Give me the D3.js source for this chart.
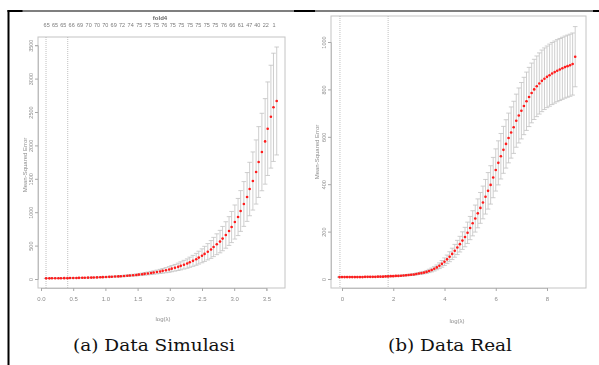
<!DOCTYPE html>
<html><head><meta charset="utf-8">
<script src="https://cdn.jsdelivr.net/npm/d3@7/dist/d3.min.js"></script>
<style>body{margin:0;background:#fff}svg{display:block}</style>
</head><body>
<svg id="c" width="599" height="365"></svg>
<script>
// ---------- (a) Data Simulasi ----------
const simLogLambda = [0.08,0.13,0.17,0.22,0.27,0.31,0.36,0.41,0.45,0.50,
 0.55,0.59,0.64,0.68,0.73,0.78,0.82,0.87,0.92,0.96,
 1.01,1.06,1.10,1.15,1.20,1.24,1.29,1.34,1.38,1.43,
 1.48,1.52,1.57,1.61,1.66,1.71,1.75,1.80,1.85,1.89,
 1.94,1.99,2.03,2.08,2.13,2.17,2.22,2.27,2.31,2.36,
 2.41,2.45,2.50,2.54,2.59,2.64,2.68,2.73,2.78,2.82,
 2.87,2.92,2.96,3.01,3.06,3.10,3.15,3.20,3.24,3.29,
 3.34,3.38,3.43,3.48,3.52,3.57,3.61,3.66];
const simMean = [10,10,11,11,12,12,13,13,14,15,
 16,17,18,19,20,21,23,24,26,28,
 30,32,34,37,39,42,45,49,53,57,
 61,66,71,77,83,90,97,105,113,122,
 132,143,155,168,182,197,214,231,251,272,
 295,320,347,376,408,442,479,520,560,605,
 659,718,778,853,928,1018,1123,1228,1347,1467,
 1602,1751,1901,2060,2250,2430,2570,2665];
const simSd = [2,2,2,2,2,2,3,3,3,3,
 3,3,4,4,4,4,5,5,5,6,
 6,7,7,8,8,9,10,11,12,13,
 14,15,17,19,21,23,25,28,31,34,
 38,42,46,50,55,60,65,70,76,82,
 89,96,104,113,122,133,144,156,168,182,
 198,215,233,255,278,305,335,365,400,435,
 480,530,580,640,700,770,810,808];
const simXTicks = [0,0.5,1,1.5,2,2.5,3,3.5];
const simXTickLabels = ["0.0","0.5","1.0","1.5","2.0","2.5","3.0","3.5"];
const simYTicks = [0,500,1000,1500,2000,2500,3000,3500];
const simTopL = [0.088,0.217,0.347,0.476,0.606,0.740,0.870,0.999,1.128,1.258,
 1.392,1.527,1.656,1.786,1.915,2.045,2.179,2.314,2.443,2.573,
 2.707,2.842,2.971,3.101,3.235,3.359,3.489,3.618];
const simTopLabels = ["65","65","65","66","69","70","70","70","69","72",
 "74","75","75","75","76","75","75","75","75","75",
 "75","76","66","61","47","40","22","1"];
const simVLines = [0.078, 0.415];
const simTitle = "fold4";

// ---------- (b) Data Real ----------
const realLogLambda = [-0.1,0.0,0.1,0.2,0.3,0.4,0.5,0.6,0.7,0.8,
 0.9,1.0,1.1,1.2,1.3,1.4,1.5,1.6,1.7,1.8,
 1.9,2.0,2.1,2.2,2.3,2.4,2.5,2.6,2.7,2.8,
 2.9,3.0,3.1,3.2,3.3,3.4,3.5,3.6,3.7,3.8,
 3.9,4.0,4.1,4.2,4.3,4.4,4.5,4.6,4.7,4.8,
 4.9,5.0,5.1,5.2,5.3,5.4,5.5,5.6,5.7,5.8,
 5.9,6.0,6.1,6.2,6.3,6.4,6.5,6.6,6.7,6.8,
 6.9,7.0,7.1,7.2,7.3,7.4,7.5,7.6,7.7,7.8,
 7.9,8.0,8.1,8.2,8.3,8.4,8.5,8.6,8.7,8.8,
 8.9,9.0,9.1];
const realMean = [8,8,8,8,8,8,8,8,8,8,
 9,9,9,9,9,10,10,10,11,11,
 12,12,13,13,14,15,16,17,18,19,
 21,23,25,27,30,34,38,43,49,56,
 64,73,83,94,106,119,133,147,162,177,
 195,215,235,255,277,300,323,347,372,397,
 428,460,490,518,545,570,595,618,640,668,
 690,710,730,750,768,785,800,813,825,836,
 845,853,860,867,873,879,884,889,894,898,
 902,907,938];
const realSd = [1,1,1,1,1,1,1,1,1,1,
 1,1,1,1,1,1,1,1,2,2,
 2,2,2,2,2,3,3,3,3,4,
 4,4,5,5,6,7,8,9,10,12,
 14,16,18,21,24,27,30,33,37,41,
 45,49,53,57,61,65,69,73,77,81,
 85,89,93,96,99,102,105,108,110,112,
 116,119,121,123,125,126,127,128,129,130,
 130,130,131,131,131,131,131,131,131,131,
 131,131,127];
const realXTicks = [0,2,4,6,8];
const realXTickLabels = ["0","2","4","6","8"];
const realYTicks = [0,200,400,600,800,1000];
const realVLines = [-0.08, 1.8];

const captions = ["(a) Data Simulasi", "(b) Data Real"];
const xTitle = "log(\u03bb)";
const yTitle = "Mean-Squared Error";

// ---------- drawing ----------
const svg = d3.select("#c");
svg.append("rect").attr("width",599).attr("height",365).attr("fill","#fff");

const defs = svg.append("defs");
defs.append("filter").attr("id","soft").attr("x","-5%").attr("y","-5%").attr("width","110%").attr("height","110%")
  .append("feGaussianBlur").attr("stdDeviation",0.35);

const GRAY_TXT = "#8c8c8c";
const FONT = "'Liberation Sans', Arial, sans-serif";

function panel(cfg){
  const g = svg.append("g").attr("filter","url(#soft)");
  const x = d3.scaleLinear().domain(cfg.xDomain).range(cfg.xRange);
  const y = d3.scaleLinear().domain(cfg.yDomain).range(cfg.yRange);
  const b = cfg.box;

  g.append("rect").attr("x",b[0]).attr("y",b[1]).attr("width",b[2]-b[0]).attr("height",b[3]-b[1])
    .attr("fill","none").attr("stroke","#c4c4c4").attr("stroke-width",1);

  const xa = d3.axisBottom(x).tickValues(cfg.xTicks).tickFormat((d,i)=>cfg.xLabels[i]).tickSize(3).tickPadding(6);
  const gx = g.append("g").attr("transform",`translate(0,${b[3]})`).call(xa);
  gx.select(".domain").attr("stroke","#bdbdbd");
  gx.selectAll(".tick line").attr("stroke","#a8a8a8");
  gx.selectAll("text").attr("font-family",FONT).attr("font-size",6).attr("fill",GRAY_TXT);

  const ya = d3.axisLeft(y).tickValues(cfg.yTicks).tickFormat(d3.format("d")).tickSize(3).tickPadding(3);
  const gy = g.append("g").attr("transform",`translate(${b[0]},0)`).call(ya);
  gy.select(".domain").attr("stroke","#bdbdbd");
  gy.selectAll(".tick line").attr("stroke","#a8a8a8");
  gy.selectAll("text").attr("font-family",FONT).attr("font-size",5.5).attr("fill",GRAY_TXT)
    .attr("text-anchor","middle").attr("x",0).attr("dy",0)
    .attr("transform","translate(-5,0) rotate(-90)");

  g.append("text").attr("x",cfg.xTitlePos[0]).attr("y",cfg.xTitlePos[1]).attr("text-anchor","middle")
    .attr("font-family",FONT).attr("font-size",6).attr("fill",GRAY_TXT).text(xTitle);
  g.append("text").attr("transform",`translate(${cfg.yTitlePos[0]},${cfg.yTitlePos[1]}) rotate(-90)`)
    .attr("text-anchor","middle").attr("font-family",FONT).attr("font-size",6).attr("fill",GRAY_TXT).text(yTitle);

  g.selectAll("line.v").data(cfg.vlines).join("line").attr("class","v")
    .attr("x1",d=>x(d)).attr("x2",d=>x(d)).attr("y1",b[1]).attr("y2",b[3])
    .attr("stroke","#b0b0b0").attr("stroke-width",0.8).attr("stroke-dasharray","1,1");

  const data = cfg.L.map((l,i)=>({l, m:cfg.mean[i], s:cfg.sd[i]}));
  const eb = g.append("g").attr("stroke","#c2c2c2").attr("stroke-width",0.8);
  eb.selectAll("line.s").data(data).join("line").attr("class","s")
    .attr("x1",d=>x(d.l)).attr("x2",d=>x(d.l)).attr("y1",d=>y(d.m+d.s)).attr("y2",d=>y(d.m-d.s));
  eb.selectAll("line.u").data(data).join("line").attr("class","u")
    .attr("x1",d=>x(d.l)-cfg.cap).attr("x2",d=>x(d.l)+cfg.cap).attr("y1",d=>y(d.m+d.s)).attr("y2",d=>y(d.m+d.s));
  eb.selectAll("line.l").data(data).join("line").attr("class","l")
    .attr("x1",d=>x(d.l)-cfg.cap).attr("x2",d=>x(d.l)+cfg.cap).attr("y1",d=>y(d.m-d.s)).attr("y2",d=>y(d.m-d.s));

  g.selectAll("circle").data(data).join("circle")
    .attr("cx",d=>x(d.l)).attr("cy",d=>y(d.m)).attr("r",1.3).attr("fill","#ff1a1a");

  if (cfg.topL){
    g.selectAll("text.top").data(cfg.topL).join("text").attr("class","top")
      .attr("x",d=>x(d)).attr("y",cfg.topY).attr("text-anchor","middle")
      .attr("font-family",FONT).attr("font-size",5.5).attr("fill","#7a7a7a")
      .text((d,i)=>cfg.topLabels[i]);
  }
  if (cfg.title){
    g.append("text").attr("x",cfg.titlePos[0]).attr("y",cfg.titlePos[1]).attr("text-anchor","middle")
      .attr("font-family",FONT).attr("font-size",6).attr("font-weight","bold").attr("fill","#666").text(cfg.title);
  }
}

panel({
  box:[38,37,285,288],
  xDomain:[0,3.5], xRange:[41,266.4],
  yDomain:[0,3500], yRange:[279,45.2],
  xTicks:simXTicks, xLabels:simXTickLabels, yTicks:simYTicks,
  L:simLogLambda, mean:simMean, sd:simSd, vlines:simVLines, cap:2.3,
  xTitlePos:[163,321], yTitlePos:[27,165],
  topL:simTopL, topLabels:simTopLabels, topY:27,
  title:simTitle, titlePos:[160,20]
});

panel({
  box:[331,16,586,288],
  xDomain:[0,8], xRange:[342,547],
  yDomain:[0,1000], yRange:[279,42],
  xTicks:realXTicks, xLabels:realXTickLabels, yTicks:realYTicks,
  L:realLogLambda, mean:realMean, sd:realSd, vlines:realVLines, cap:2.3,
  xTitlePos:[457,323], yTitlePos:[319,152]
});

const frame = svg.append("g").attr("fill","#000");
frame.append("rect").attr("x",7.5).attr("y",10).attr("width",2).attr("height",355);
frame.append("rect").attr("x",7.5).attr("y",10).attr("width",15).attr("height",2);
frame.append("rect").attr("x",22).attr("y",10.5).attr("width",572).attr("height",1);
frame.append("rect").attr("x",294).attr("y",10).attr("width",21).attr("height",2);
frame.append("rect").attr("x",593).attr("y",10).attr("width",6).attr("height",2);

const capPos = [[154,351,162],[450,351,124]];
svg.selectAll("text.cap").data(captions).join("text").attr("class","cap")
  .attr("x",(d,i)=>capPos[i][0]).attr("y",(d,i)=>capPos[i][1]).attr("text-anchor","middle")
  .attr("font-family","'DejaVu Serif', serif").attr("font-size",17).attr("fill","#111")
  .attr("textLength",(d,i)=>capPos[i][2]).attr("lengthAdjust","spacingAndGlyphs")
  .text(d=>d);
</script>
</body></html>
